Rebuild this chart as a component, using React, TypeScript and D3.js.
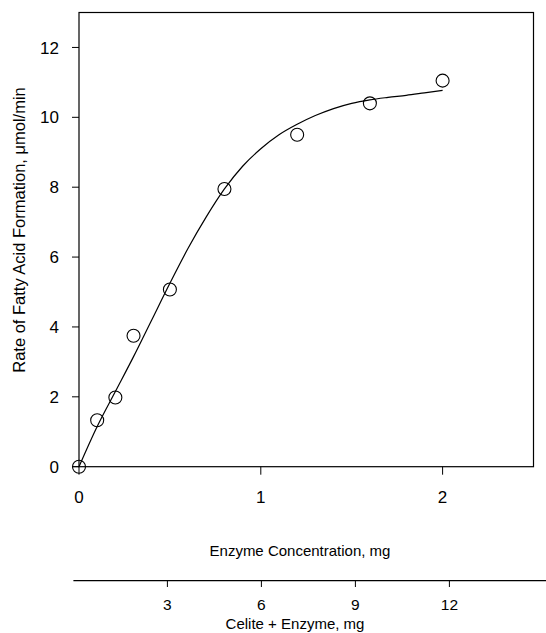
import React from "react";
import * as d3 from "d3";

const enzymeMg = [0, 0.1, 0.2, 0.3, 0.5, 0.8, 1.2, 1.6, 2.0];
const rateValues = [0, 1.33, 1.98, 3.75, 5.07, 7.95, 9.5, 10.4, 11.05];

const fitX = [0, 0.1, 0.2, 0.3, 0.4, 0.5, 0.6, 0.7, 0.8, 0.9, 1.0, 1.1, 1.2, 1.3, 1.4, 1.5, 1.6, 1.7, 1.8, 1.9, 2.0];
const fitY = [0, 1.15, 2.15, 3.15, 4.2, 5.25, 6.25, 7.15, 7.95, 8.6, 9.1, 9.5, 9.8, 10.05, 10.25, 10.4, 10.5, 10.57, 10.63, 10.7, 10.77];

const xTicks = [0, 1, 2];
const yTicks = [0, 2, 4, 6, 8, 10, 12];
const celiteTicks = [3, 6, 9, 12];

const W = 546;
const H = 633;
const font = "'Liberation Sans', Arial, sans-serif";

export default function App() {
  const x = d3.scaleLinear().domain([0, 2.5]).range([79, 533.5]);
  const y = d3.scaleLinear().domain([0, 13]).range([466.7, 12.5]);
  const x2 = d3.scaleLinear().domain([0, 15]).range([73.4, 543.4]);

  const line = d3
    .line<number>()
    .x((_, i) => x(fitX[i]))
    .y((d) => y(d))
    .curve(d3.curveMonotoneX);

  return (
    <svg
      width={W}
      height={H}
      style={{ position: "absolute", left: 0, top: 0, background: "#fff" }}
      fontFamily={font}
    >
      <rect x={0} y={0} width={W} height={H} fill="#fff" />
      <rect
        x={x(0)}
        y={y(13)}
        width={x(2.5) - x(0)}
        height={y(0) - y(13)}
        fill="none"
        stroke="#000"
        strokeWidth={1.2}
      />
      <line x1={x(0) - 6} x2={x(0)} y1={y(0)} y2={y(0)} stroke="#000" strokeWidth={1} />
      {yTicks.map((t) => (
        <g key={"y" + t}>
          <line x1={x(0) - 7} x2={x(0)} y1={y(t)} y2={y(t)} stroke="#000" strokeWidth={1} />
          <text x={59} y={y(t)} dy="0.36em" textAnchor="end" fontSize={17} fill="#000">
            {t}
          </text>
        </g>
      ))}
      {xTicks.map((t) => (
        <g key={"x" + t}>
          <line x1={x(t)} x2={x(t)} y1={y(0)} y2={y(0) + 8} stroke="#000" strokeWidth={1} />
          <text x={x(t)} y={503} textAnchor="middle" fontSize={17} fill="#000">
            {t}
          </text>
        </g>
      ))}
      <text x={300} y={556} textAnchor="middle" fontSize={15} fill="#000">
        Enzyme Concentration, mg
      </text>
      <text
        transform={`translate(25,230) rotate(-90)`}
        textAnchor="middle"
        fontSize={16.5}
        fill="#000"
      >
        Rate of Fatty Acid Formation, μmol/min
      </text>

      <path d={line(fitY) || ""} fill="none" stroke="#000" strokeWidth={1.2} />

      {enzymeMg.map((v, i) => (
        <circle
          key={"p" + i}
          cx={x(v)}
          cy={y(rateValues[i])}
          r={6.5}
          fill="none"
          stroke="#000"
          strokeWidth={1.1}
        />
      ))}

      <line x1={x2(0)} x2={W} y1={580.7} y2={580.7} stroke="#000" strokeWidth={1.2} />
      {celiteTicks.map((t) => (
        <g key={"c" + t}>
          <line x1={x2(t)} x2={x2(t)} y1={580.7} y2={587} stroke="#000" strokeWidth={1} />
          <text x={x2(t)} y={610} textAnchor="middle" fontSize={15.5} fill="#000">
            {t}
          </text>
        </g>
      ))}
      <text x={295} y={629} textAnchor="middle" fontSize={15} fill="#000">
        Celite + Enzyme, mg
      </text>
    </svg>
  );
}
